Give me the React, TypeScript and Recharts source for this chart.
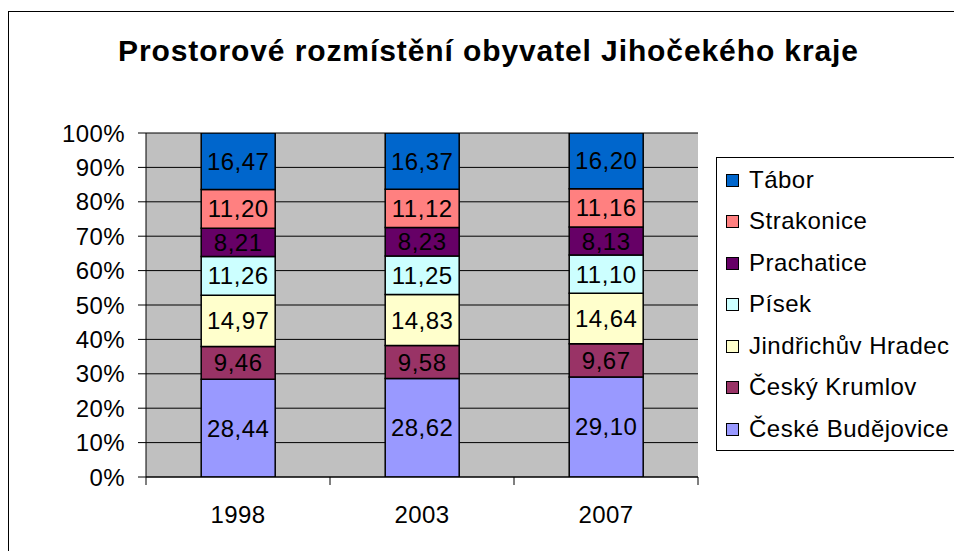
import { BarChart, Bar, XAxis, YAxis, CartesianGrid, LabelList } from "recharts";

const YEARS = ["1998", "2003", "2007"];
const SERIES = [
  "České Budějovice",
  "Český Krumlov",
  "Jindřichův Hradec",
  "Písek",
  "Prachatice",
  "Strakonice",
  "Tábor",
];
const COLORS = ["#9999FF", "#993366", "#FFFFCC", "#CCFFFF", "#660066", "#FF8080", "#0066CC"];
const V1998 = [28.44, 9.46, 14.97, 11.26, 8.21, 11.2, 16.47];
const V2003 = [28.62, 9.58, 14.83, 11.25, 8.23, 11.12, 16.37];
const V2007 = [29.1, 9.67, 14.64, 11.1, 8.13, 11.16, 16.2];
const Y_TICKS = [0, 10, 20, 30, 40, 50, 60, 70, 80, 90, 100];

const VALUES = [V1998, V2003, V2007];
const data = YEARS.map((year, i) => {
  const row: Record<string, string | number> = { year };
  SERIES.forEach((_s, j) => {
    row["k" + j] = VALUES[i][j];
  });
  return row;
});

const FONT = '"Liberation Sans", Arial, sans-serif';
const fmt = (v: any) => Number(v).toFixed(2).replace(".", ",");

function YearTick(props: any) {
  const { x, y, payload, index } = props;
  const off = payload.offset || 0;
  return (
    <g>
      <line x1={x - off} y1={y} x2={x - off} y2={y + 8} stroke="#000" />
      {index === YEARS.length - 1 && (
        <line x1={x + off} y1={y} x2={x + off} y2={y + 8} stroke="#000" />
      )}
      <text
        x={x}
        y={y + 46}
        textAnchor="middle"
        fontSize={24}
        letterSpacing={0.4}
        fill="#000"
        fontFamily={FONT}
      >
        {payload.value}
      </text>
    </g>
  );
}

function LegendBox() {
  const items = SERIES.map((name, i) => ({ name, color: COLORS[i] })).reverse();
  return (
    <div
      style={{
        position: "absolute",
        left: 716,
        top: 157,
        width: 250,
        height: 292,
        border: "1px solid #000",
        background: "#fff",
        fontFamily: FONT,
        fontSize: 24,
        letterSpacing: 0.5,
        color: "#000",
      }}
    >
      {items.map((it, i) => (
        <div
          key={it.name}
          style={{
            position: "absolute",
            left: 0,
            top: 6.5 + 41.5 * i,
            height: 30,
            lineHeight: "30px",
            whiteSpace: "nowrap",
          }}
        >
          <span
            style={{
              position: "absolute",
              left: 9,
              top: 9,
              width: 11,
              height: 11,
              background: it.color,
              border: "1px solid #000",
            }}
          />
          <span style={{ position: "absolute", left: 32, top: 0 }}>{it.name}</span>
        </div>
      ))}
    </div>
  );
}

export default function App() {
  return (
    <div
      style={{
        position: "absolute",
        left: 0,
        top: 0,
        width: 954,
        height: 551,
        overflow: "hidden",
        background: "#fff",
      }}
    >
      <div
        style={{
          position: "absolute",
          left: 8,
          top: 11,
          width: 1000,
          height: 600,
          border: "1px solid #000",
        }}
      />
      <div
        style={{
          position: "absolute",
          left: 0,
          top: 36,
          width: 977,
          textAlign: "center",
          fontFamily: FONT,
          fontWeight: "bold",
          fontSize: 30,
          letterSpacing: 0.9,
          lineHeight: "30px",
          color: "#000",
          whiteSpace: "nowrap",
        }}
      >
        Prostorové rozmístění obyvatel Jihočekého kraje
      </div>
      <BarChart
        width={954}
        height={551}
        data={data}
        margin={{ top: 133, right: 256, bottom: 0, left: 0 }}
        barCategoryGap="30%"
        style={{ position: "absolute", left: 0, top: 0 }}
      >
        <CartesianGrid vertical={false} stroke="#000" fill="#C0C0C0" fillOpacity={1} />
        <XAxis
          dataKey="year"
          height={74}
          tickLine={false}
          tickSize={0}
          tickMargin={0}
          axisLine={{ stroke: "#000" }}
          tick={<YearTick />}
          interval={0}
        />
        <YAxis
          width={146}
          domain={[0, 100]}
          ticks={Y_TICKS}
          allowDataOverflow
          interval={0}
          tickSize={8}
          tickMargin={13}
          axisLine={{ stroke: "#000" }}
          tickLine={{ stroke: "#000" }}
          tickFormatter={(v) => v + "%"}
          tick={{ fontSize: 24, fill: "#000", fontFamily: FONT, letterSpacing: 0.4 }}
        />
        {SERIES.map((name, j) => (
          <Bar
            key={name}
            dataKey={"k" + j}
            name={name}
            stackId="a"
            fill={COLORS[j]}
            stroke="#000"
            strokeWidth={1.5}
            isAnimationActive={false}
          >
            <LabelList
              dataKey={"k" + j}
              position="center"
              formatter={fmt}
              fill="#000"
              fontSize={24}
              fontFamily={FONT}
              letterSpacing={0.5}
            />
          </Bar>
        ))}
      </BarChart>
      <LegendBox />
    </div>
  );
}
